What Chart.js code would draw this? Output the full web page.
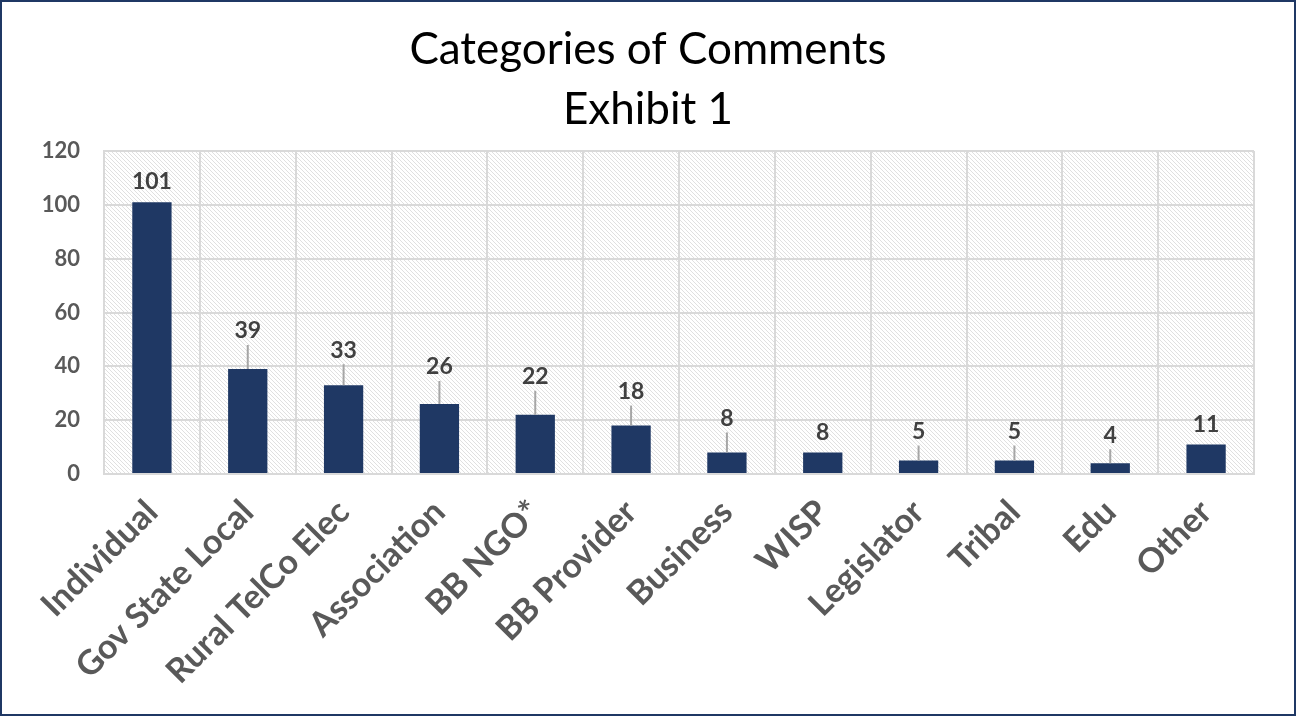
<!DOCTYPE html>
<html>
<head>
<meta charset="utf-8">
<script src="https://cdn.jsdelivr.net/npm/chart.js@4.4.1/dist/chart.umd.min.js"></script>
<style>
  html, body { margin: 0; padding: 0; background: #fff; }
  #wrap { width: 1296px; height: 716px; position: relative; }
</style>
</head>
<body>
<div id="wrap"><canvas id="chartComments"></canvas></div>
<script>
// dati
const categorie = ['Individual', 'Gov State Local', 'Rural TelCo Elec', 'Association', 'BB NGO*', 'BB Provider', 'Business', 'WISP', 'Legislator', 'Tribal', 'Edu', 'Other'];
const commenti = [101, 39, 33, 26, 22, 18, 8, 8, 5, 5, 4, 11];
const titolo = ['Categories of Comments', 'Exhibit 1'];
const tickY = [0, 20, 40, 60, 80, 100, 120];

// stile etichette: quanto sta sopra la barra (px)
const labelOffsets = [21, 38, 35, 37, 38, 34, 34, 20, 29, 29, 28, 20];

const navy = '#1f3864';
const grigio = '#595959';
const fontFam = 'Lato, "Open Sans", sans-serif';

// sfondo tratteggiato dell'area del grafico
function makeHatch() {
    const c = document.createElement('canvas');
    c.width = 4; c.height = 4;
    const g = c.getContext('2d');
    g.fillStyle = '#ffffff';
    g.fillRect(0, 0, 4, 4);
    g.fillStyle = '#e0e0e0';
    for (let i = 0; i < 4; i++) g.fillRect(i, i, 1, 1);
    return c;
}

const hatchPlugin = {
    id: 'hatch',
    beforeDraw(chart) {
        const {ctx, chartArea: a} = chart;
        ctx.save();
        ctx.fillStyle = ctx.createPattern(makeHatch(), 'repeat');
        ctx.fillRect(a.left, a.top, a.right - a.left, a.bottom - a.top);
        ctx.restore();
    }
};

// titolo centrato sulla pagina intera
const titlePlugin = {
    id: 'titoloPagina',
    afterDraw(chart) {
        const ctx = chart.ctx;
        ctx.save();
        ctx.font = '44px ' + fontFam;
        ctx.fillStyle = '#000';
        ctx.textAlign = 'center';
        ctx.textBaseline = 'middle';
        titolo.forEach((riga, i) => ctx.fillText(riga, chart.width / 2, 50 + i * 60));
        ctx.restore();
    }
};

// etichette valori con linee guida
const valueLabels = {
    id: 'valueLabels',
    afterDatasetsDraw(chart) {
        const ctx = chart.ctx;
        const meta = chart.getDatasetMeta(0);
        ctx.save();
        ctx.font = 'bold 23px ' + fontFam;
        ctx.textAlign = 'center';
        ctx.textBaseline = 'middle';
        meta.data.forEach((bar, i) => {
            const off = labelOffsets[i];
            const ly = bar.y - off;
            if (off > 25) {
                ctx.strokeStyle = '#a6a6a6';
                ctx.lineWidth = 2;
                ctx.beginPath();
                ctx.moveTo(bar.x, ly + 14);
                ctx.lineTo(bar.x, bar.y);
                ctx.stroke();
            }
            ctx.fillStyle = '#404040';
            ctx.fillText(commenti[i], bar.x, ly);
        });
        ctx.restore();
    }
};

// bordo esterno
const frame = {
    id: 'frame',
    afterDraw(chart) {
        const ctx = chart.ctx;
        ctx.save();
        ctx.strokeStyle = navy;
        ctx.lineWidth = 2;
        ctx.strokeRect(1, 1, chart.width - 2, chart.height - 2);
        ctx.restore();
    }
};

const dataChart = {
    labels: categorie,
    datasets: [{
        label: 'Comments',
        data: commenti,
        backgroundColor: navy,
        borderWidth: 0,
        categoryPercentage: 1,
        barPercentage: 0.41
    }]
};

const configChart = {
    type: 'bar',
    data: dataChart,
    options: {
        responsive: true,
        maintainAspectRatio: false,
        animation: false,
        layout: { padding: { top: 151, right: 42, left: 0, bottom: 0 } },
        plugins: {
            legend: { display: false },
            tooltip: { enabled: false },
            title: { display: false }
        },
        scales: {
            x: {
                grid: { color: '#d9d9d9', lineWidth: 2, drawTicks: false },
                border: { color: '#d9d9d9', width: 2 },
                ticks: {
                    color: grigio,
                    font: { family: fontFam, size: 34, weight: 'bold' },
                    minRotation: 45,
                    maxRotation: 45,
                    padding: 18,
                    autoSkip: false
                },
                afterFit(scale) { scale.height = 242; }
            },
            y: {
                min: 0,
                max: 120,
                afterBuildTicks(scale) { scale.ticks = tickY.map(v => ({ value: v })); },
                grid: { color: '#d9d9d9', lineWidth: 2, drawTicks: false },
                border: { color: '#d9d9d9', width: 2 },
                ticks: {
                    color: grigio,
                    font: { family: fontFam, size: 22, weight: 'bold' },
                    padding: 24
                },
                afterFit(scale) { scale.width = 104; }
            }
        }
    },
    plugins: [hatchPlugin, valueLabels, titlePlugin, frame]
};

const chartComments = new Chart(document.getElementById('chartComments'), configChart);
</script>
</body>
</html>
